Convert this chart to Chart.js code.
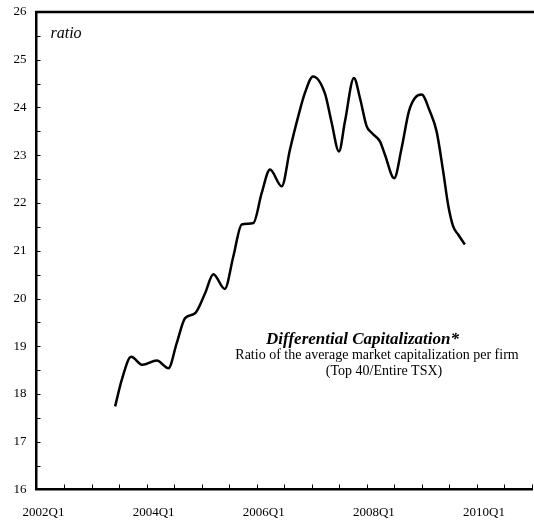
<!DOCTYPE html>
<html>
<head>
<meta charset="utf-8">
<script src="https://cdn.jsdelivr.net/npm/chart.js@4/dist/chart.umd.min.js"></script>
<style>
  body { margin: 0; background: #fff; }
  #wrap { width: 534px; height: 520px; }
</style>
</head>
<body>
<div id="wrap"><canvas id="chart" width="534" height="520"></canvas></div>
<script>
// time in decimal years, ratio Top 40 / Entire TSX
const years = [2003.428, 2003.550, 2003.719, 2003.924, 2004.185, 2004.396, 2004.548, 2004.699, 2004.880, 2005.062,
               2005.212, 2005.419, 2005.575, 2005.728, 2005.938, 2006.091, 2006.241, 2006.454, 2006.604, 2006.755,
               2006.877, 2007.022, 2007.240, 2007.361, 2007.494, 2007.603, 2007.766, 2007.875, 2007.996, 2008.087,
               2008.238, 2008.329, 2008.497, 2008.632, 2008.764, 2008.873, 2008.994, 2009.145, 2009.267, 2009.387,
               2009.477, 2009.568, 2009.659, 2009.781];
const ratio = [17.74, 18.30, 18.78, 18.61, 18.70, 18.54, 19.07, 19.59, 19.69, 20.11,
               20.51, 20.20, 20.88, 21.55, 21.58, 22.21, 22.70, 22.35, 23.12, 23.82,
               24.31, 24.65, 24.29, 23.68, 23.08, 23.71, 24.62, 24.20, 23.61, 23.47,
               23.29, 23.01, 22.52, 23.15, 23.92, 24.20, 24.27, 23.92, 23.50, 22.66,
               21.96, 21.51, 21.34, 21.13];

const labelYears = [2002, 2004, 2006, 2008, 2010];
const xTickLabels = ['2002Q1', '2004Q1', '2006Q1', '2008Q1', '2010Q1'];
const yTickLabels = ['16', '17', '18', '19', '20', '21', '22', '23', '24', '25', '26'];

Chart.defaults.font.family = "'Liberation Serif', 'Times New Roman', serif";
Chart.defaults.font.size = 13;
Chart.defaults.color = '#000';

// top border line, inward tick marks and the text notes
const frame = {
    id: 'frame',
    afterDraw(chart) {
        const { ctx, chartArea: a, scales: { x, y } } = chart;
        ctx.save();
        ctx.strokeStyle = '#000';
        ctx.lineWidth = 2.5;
        ctx.beginPath();
        ctx.moveTo(a.left - 1.25, a.top);
        ctx.lineTo(chart.width, a.top);
        ctx.stroke();

        ctx.lineWidth = 1;
        ctx.beginPath();
        x.ticks.forEach(t => {
            const px = Math.round(x.getPixelForValue(t.value)) + 0.5;
            if (px <= a.left + 2) return;
            ctx.moveTo(px, a.bottom);
            ctx.lineTo(px, a.bottom - 5);
        });
        y.ticks.forEach(t => {
            const py = Math.round(y.getPixelForValue(t.value)) + 0.5;
            if (py >= a.bottom - 2 || py <= a.top + 2) return;
            ctx.moveTo(a.left, py);
            ctx.lineTo(a.left + 4, py);
        });
        ctx.stroke();

        ctx.fillStyle = '#000';
        ctx.textBaseline = 'alphabetic';
        ctx.textAlign = 'left';
        ctx.font = "italic 16px 'Liberation Serif'";
        ctx.fillText('ratio', a.left + 14, 38);

        ctx.textAlign = 'center';
        ctx.font = "bold italic 17px 'Liberation Serif'";
        ctx.fillText('Differential Capitalization*', 362.5, 344);
        ctx.font = "14px 'Liberation Serif'";
        ctx.fillText('Ratio of the average market capitalization per firm', 377, 359);
        ctx.fillText('(Top 40/Entire TSX)', 384, 375);
        ctx.restore();
    }
};

new Chart(document.getElementById('chart'), {
    type: 'line',
    data: {
        datasets: [{
            data: years.map((yr, i) => ({ x: yr, y: ratio[i] })),
            borderColor: '#000',
            borderWidth: 2.5,
            pointRadius: 0,
            fill: false,
            cubicInterpolationMode: 'monotone'
        }]
    },
    options: {
        responsive: false,
        animation: false,
        layout: { padding: { top: 12, right: 2, left: 0, bottom: 0 } },
        plugins: { legend: { display: false }, tooltip: { enabled: false } },
        scales: {
            x: {
                type: 'linear',
                min: 2002,
                max: 2011,
                afterFit: s => { s.height = 30.5; s.paddingLeft = 0; s.paddingRight = 0; },
                border: { color: '#000', width: 2.5 },
                grid: { display: false, drawTicks: false },
                ticks: {
                    stepSize: 0.5,
                    autoSkip: false,
                    maxRotation: 0,
                    padding: 15,
                    labelOffset: 7,
                    callback: v => {
                        const k = labelYears.indexOf(v);
                        return k >= 0 ? xTickLabels[k] : '';
                    }
                }
            },
            y: {
                min: 16,
                max: 26,
                afterFit: s => { s.width = 36.5; s.paddingTop = 0; s.paddingBottom = 0; },
                border: { color: '#000', width: 2.5 },
                grid: { display: false, drawTicks: false },
                ticks: {
                    stepSize: 0.5,
                    autoSkip: false,
                    padding: 10,
                    callback: v => Number.isInteger(v) ? yTickLabels[v - 16] : ''
                }
            }
        }
    },
    plugins: [frame]
});
</script>
</body>
</html>
